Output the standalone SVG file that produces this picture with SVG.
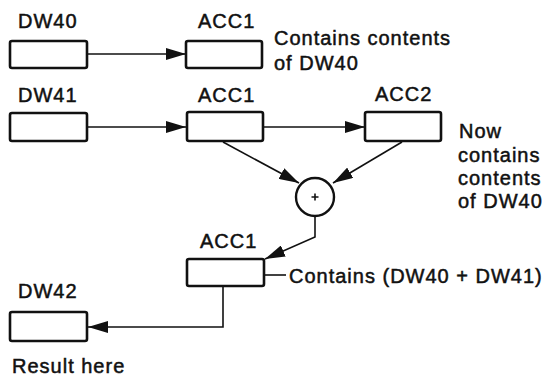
<svg xmlns="http://www.w3.org/2000/svg" width="545" height="377" viewBox="0 0 545 377">
<style>
.box{fill:#fff;stroke:#111;stroke-width:2.6}
.ln{fill:none;stroke:#111;stroke-width:1.6}
text{font-family:"Liberation Sans",Arial,sans-serif;font-size:20px;fill:#111;stroke:#111;stroke-width:0.5;letter-spacing:1px}
</style>
<defs>
<marker id="ah" viewBox="0 0 20 12" refX="20" refY="6" markerWidth="20" markerHeight="12" markerUnits="userSpaceOnUse" orient="auto">
<path d="M0,0 L20,6 L0,12 Z" fill="#111"/>
</marker>
</defs>
<rect width="545" height="377" fill="#fff"/>
<g id="connectors">
<line class="ln" x1="88" y1="54" x2="186" y2="54" marker-end="url(#ah)"/>
<line class="ln" x1="88" y1="127" x2="186" y2="127" marker-end="url(#ah)"/>
<line class="ln" x1="263" y1="127" x2="365" y2="127" marker-end="url(#ah)"/>
<line class="ln" x1="223" y1="142" x2="299" y2="183" marker-end="url(#ah)"/>
<line class="ln" x1="402" y1="142" x2="333" y2="183" marker-end="url(#ah)"/>
<polyline class="ln" points="315,216 315,237 265,259" marker-end="url(#ah)"/>
<polyline class="ln" points="223,287 223,327 88,327" marker-end="url(#ah)"/>
<line class="ln" x1="255" y1="275" x2="286" y2="275"/>
</g>
<g id="dw40">
<rect class="box" x="10" y="41" width="77" height="27" rx="2"/>
<text x="18" y="28">DW40</text>
</g>
<g id="acc1-top">
<rect class="box" x="186" y="41" width="76" height="27" rx="2"/>
<text x="198" y="28">ACC1</text>
<text x="274" y="45">Contains contents</text>
<text x="274" y="70">of DW40</text>
</g>
<g id="dw41">
<rect class="box" x="10" y="113" width="77" height="28" rx="2"/>
<text x="18" y="102">DW41</text>
</g>
<g id="acc1-mid">
<rect class="box" x="187" y="112" width="76" height="29" rx="2"/>
<text x="198" y="102">ACC1</text>
</g>
<g id="acc2">
<rect class="box" x="365" y="112" width="76" height="29" rx="2"/>
<text x="375" y="101">ACC2</text>
<text x="459" y="138">Now</text>
<text x="458" y="162">contains</text>
<text x="458" y="185">contents</text>
<text x="458" y="208">of DW40</text>
</g>
<g id="adder">
<circle cx="315" cy="197" r="19" fill="#fff" stroke="#111" stroke-width="2.4"/>
<path d="M311.5,197 H318.5 M315,193.5 V200.5" stroke="#111" stroke-width="1.6"/>
</g>
<g id="acc1-bottom">
<rect class="box" x="187" y="259" width="77" height="27" rx="2"/>
<text x="200" y="248">ACC1</text>
<text x="289" y="283">Contains (DW40 + DW41)</text>
</g>
<g id="dw42">
<rect class="box" x="10" y="312" width="77" height="29" rx="2"/>
<text x="18" y="298">DW42</text>
<text x="12" y="373">Result here</text>
</g>
</svg>
